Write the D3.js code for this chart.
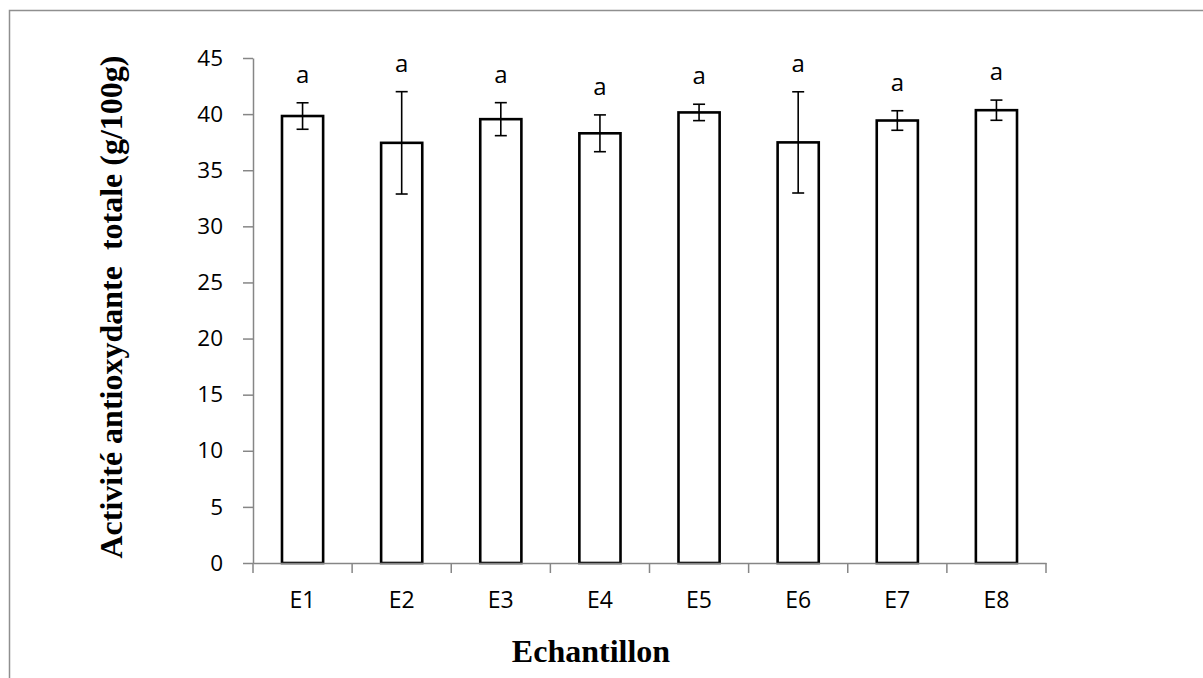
<!DOCTYPE html>
<html>
<head>
<meta charset="utf-8">
<script src="https://cdn.jsdelivr.net/npm/d3@7"></script>
<style>
  html, body { margin: 0; padding: 0; background: #fff; }
  svg { display: block; }
</style>
</head>
<body>
<svg id="chart" width="1203" height="678"></svg>
<script>
// ---- data ----
const categories = ["E1", "E2", "E3", "E4", "E5", "E6", "E7", "E8"];
const values = [39.83, 37.44, 39.55, 38.29, 40.15, 37.48, 39.43, 40.35];
const errors = [1.18, 4.56, 1.47, 1.64, 0.73, 4.51, 0.87, 0.9];
const letters = ["a", "a", "a", "a", "a", "a", "a", "a"];
const yTicks = [0, 5, 10, 15, 20, 25, 30, 35, 40, 45];
const yTitle = "Activité antioxydante  totale (g/100g)";
const xTitle = "Echantillon";

// ---- layout ----
const svg = d3.select("#chart");
const plotLeft = 253, plotRight = 1046, plotTop = 58, plotBottom = 563;
const axisColor = "#868686";

// outer frame
svg.append("rect")
  .attr("x", 9.5).attr("y", 10.5)
  .attr("width", 1300).attr("height", 800)
  .attr("fill", "none").attr("stroke", "#8f8f8f").attr("stroke-width", 1.5);

const x = d3.scaleBand().domain(categories).range([plotLeft, plotRight])
  .paddingInner(0.585).paddingOuter(0.2925);
const y = d3.scaleLinear().domain([0, 45]).range([plotBottom, plotTop]);

// bars
svg.append("g").selectAll("rect").data(categories).join("rect")
  .attr("x", d => x(d))
  .attr("y", (d, i) => y(values[i]))
  .attr("width", x.bandwidth())
  .attr("height", (d, i) => y(0) - y(values[i]))
  .attr("fill", "#fff").attr("stroke", "#000").attr("stroke-width", 2.6);

// error bars
const eg = svg.append("g").attr("stroke", "#000").attr("stroke-width", 1.6);
categories.forEach((c, i) => {
  const cx = x(c) + x.bandwidth() / 2;
  const yt = y(values[i] + errors[i]), yb = y(values[i] - errors[i]);
  eg.append("line").attr("x1", cx).attr("x2", cx).attr("y1", yt).attr("y2", yb);
  eg.append("line").attr("x1", cx - 6).attr("x2", cx + 6).attr("y1", yt).attr("y2", yt);
  eg.append("line").attr("x1", cx - 6).attr("x2", cx + 6).attr("y1", yb).attr("y2", yb);
});

// significance letters
svg.append("g").selectAll("text").data(categories).join("text")
  .attr("x", d => x(d) + x.bandwidth() / 2)
  .attr("y", (d, i) => y(values[i] + errors[i]) - 20)
  .attr("text-anchor", "middle")
  .attr("font-family", "'Open Sans', sans-serif").attr("font-size", 24)
  .attr("fill", "#000")
  .text((d, i) => letters[i]);

// y axis
const yAxis = svg.append("g").attr("transform", `translate(${plotLeft},0)`)
  .call(d3.axisLeft(y).tickValues(yTicks).tickSize(10).tickPadding(20).tickSizeOuter(0));
yAxis.select(".domain").attr("stroke", axisColor).attr("stroke-width", 1.5);
yAxis.selectAll(".tick line").attr("stroke", axisColor).attr("stroke-width", 1.5);
yAxis.selectAll(".tick text")
  .attr("font-family", "'Open Sans', sans-serif").attr("font-size", 22.5).attr("fill", "#000");

// x axis (line + boundary ticks)
const xAxis = svg.append("g").attr("transform", `translate(0,${plotBottom})`)
  .call(d3.axisBottom(x).tickSize(0).tickPadding(29).tickSizeOuter(0));
xAxis.select(".domain").attr("stroke", axisColor).attr("stroke-width", 1.5);
xAxis.selectAll(".tick text")
  .attr("font-family", "'Open Sans', sans-serif").attr("font-size", 23).attr("fill", "#000");
const gap = x.step() - x.bandwidth();
const bounds = categories.map(c => x(c) - gap / 2).concat([x(categories[categories.length - 1]) + x.bandwidth() + gap / 2]);
xAxis.selectAll(".bt").data(bounds).join("line")
  .attr("x1", d => d).attr("x2", d => d).attr("y1", 0).attr("y2", 10)
  .attr("stroke", axisColor).attr("stroke-width", 1.5);

// titles
svg.append("text")
  .attr("x", 591).attr("y", 662)
  .attr("text-anchor", "middle")
  .attr("font-family", "'Liberation Serif', 'Times New Roman', serif")
  .attr("font-weight", "bold").attr("font-size", 32).attr("fill", "#000")
  .text(xTitle);

svg.append("text")
  .attr("transform", `translate(122,307) rotate(-90)`)
  .attr("text-anchor", "middle")
  .style("white-space", "pre")
  .attr("font-family", "'Liberation Serif', 'Times New Roman', serif")
  .attr("font-weight", "bold").attr("font-size", 32).attr("fill", "#000")
  .text(yTitle);
</script>
</body>
</html>
